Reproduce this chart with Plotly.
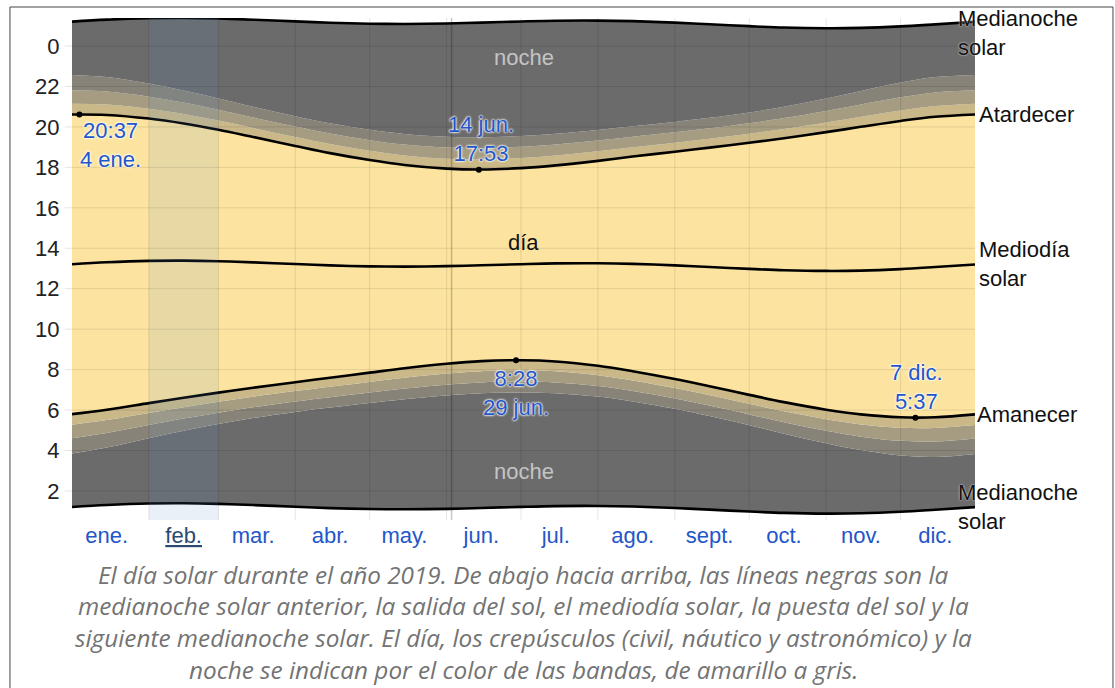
import plotly.graph_objects as go

# ---------------- data (hours of day, 2019) ----------------
dates = ["2019-01-01", "2019-01-15", "2019-02-01", "2019-02-15", "2019-03-01", "2019-03-15",
         "2019-04-01", "2019-04-15", "2019-05-01", "2019-05-15", "2019-06-01", "2019-06-15",
         "2019-07-01", "2019-07-15", "2019-08-01", "2019-08-15", "2019-09-01", "2019-09-15",
         "2019-10-01", "2019-10-15", "2019-11-01", "2019-11-15", "2019-12-01", "2019-12-15",
         "2019-12-31"]

prev_midnight = [1.208, 1.306, 1.378, 1.390, 1.361, 1.303, 1.220, 1.153, 1.105, 1.093, 1.116, 1.158,
                 1.213, 1.251, 1.258, 1.230, 1.155, 1.075, 0.983, 0.916, 0.880, 0.896, 0.970, 1.073, 1.201]
astro_dawn = [3.850, 4.149, 4.612, 4.981, 5.312, 5.606, 5.908, 6.124, 6.349, 6.535, 6.721, 6.829,
              6.874, 6.835, 6.665, 6.428, 6.063, 5.702, 5.249, 4.833, 4.360, 4.020, 3.749, 3.679, 3.831]
naut_dawn = [4.607, 4.865, 5.258, 5.578, 5.872, 6.138, 6.424, 6.637, 6.866, 7.060, 7.255, 7.368,
             7.412, 7.368, 7.187, 6.944, 6.576, 6.220, 5.784, 5.395, 4.971, 4.684, 4.477, 4.444, 4.591]
civil_dawn = [5.271, 5.504, 5.855, 6.142, 6.410, 6.660, 6.937, 7.152, 7.390, 7.596, 7.804, 7.924,
              7.967, 7.916, 7.721, 7.466, 7.090, 6.733, 6.307, 5.936, 5.545, 5.292, 5.124, 5.113, 5.256]
sunrise = [5.800, 6.019, 6.343, 6.611, 6.863, 7.104, 7.379, 7.600, 7.850, 8.070, 8.294, 8.421,
           8.463, 8.404, 8.193, 7.923, 7.536, 7.175, 6.751, 6.391, 6.019, 5.787, 5.643, 5.644, 5.786]
solar_noon = [13.208, 13.306, 13.378, 13.390, 13.361, 13.303, 13.220, 13.153, 13.105, 13.093, 13.116, 13.158,
              13.213, 13.251, 13.258, 13.230, 13.155, 13.075, 12.983, 12.916, 12.880, 12.896, 12.970, 13.073, 13.201]
sunset = [20.616, 20.593, 20.413, 20.169, 19.859, 19.502, 19.061, 18.706, 18.360, 18.116, 17.938, 17.895,
          17.963, 18.098, 18.323, 18.537, 18.774, 18.975, 19.215, 19.441, 19.741, 20.005, 20.297, 20.502, 20.616]
civil_dusk = [21.145, 21.108, 20.901, 20.638, 20.312, 19.946, 19.503, 19.154, 18.820, 18.590, 18.428, 18.392,
              18.459, 18.586, 18.795, 18.994, 19.220, 19.417, 19.659, 19.896, 20.215, 20.500, 20.816, 21.033, 21.146]
naut_dusk = [21.809, 21.747, 21.498, 21.202, 20.850, 20.468, 20.016, 19.669, 19.344, 19.126, 18.977, 18.948,
             19.014, 19.134, 19.329, 19.516, 19.734, 19.930, 20.182, 20.437, 20.789, 21.108, 21.463, 21.702, 21.811]
astro_dusk = [22.566, 22.463, 22.144, 21.799, 21.410, 21.000, 20.532, 20.182, 19.861, 19.651, 19.511, 19.487,
              19.552, 19.667, 19.851, 20.032, 20.247, 20.448, 20.717, 20.999, 21.400, 21.772, 22.191, 22.467, 22.571]
next_midnight = [25.208, 25.306, 25.378, 25.390, 25.361, 25.303, 25.220, 25.153, 25.105, 25.093, 25.116, 25.158,
                 25.213, 25.251, 25.258, 25.230, 25.155, 25.075, 24.983, 24.916, 24.880, 24.896, 24.970, 25.073, 25.201]

extreme_dates = ["2019-01-04", "2019-06-14", "2019-06-29", "2019-12-07"]
extreme_hours = [20.617, 17.883, 8.467, 5.617]
extreme_labels = ["20:37<br>4 ene.", "14 jun.<br>17:53", "8:28<br>29 jun.", "7 dic.<br>5:37"]

month_mid = ["2019-01-15", "2019-02-15", "2019-03-15", "2019-04-15", "2019-05-15", "2019-06-15",
             "2019-07-15", "2019-08-15", "2019-09-15", "2019-10-15", "2019-11-15", "2019-12-15"]
month_labels = ["ene.", "<span style='color:#2b4a6e'><u>feb.</u></span>", "mar.", "abr.", "may.", "jun.",
                "jul.", "ago.", "sept.", "oct.", "nov.", "dic."]
month_starts = ["2019-02-01", "2019-03-01", "2019-04-01", "2019-05-01", "2019-06-01", "2019-07-01",
                "2019-08-01", "2019-09-01", "2019-10-01", "2019-11-01", "2019-12-01"]
hour_ticks = [2, 4, 6, 8, 10, 12, 14, 16, 18, 20, 22, 24]
hour_labels = ["2", "4", "6", "8", "10", "12", "14", "16", "18", "20", "22", "0"]

caption_lines = [
    "El día solar durante el año 2019. De abajo hacia arriba, las líneas negras son la",
    "medianoche solar anterior, la salida del sol, el mediodía solar, la puesta del sol y la",
    "siguiente medianoche solar. El día, los crepúsculos (civil, náutico y astronómico) y la",
    "noche se indican por el color de las bandas, de amarillo a gris.",
]

# ---------------- styles ----------------
NIGHT = "#6b6b6b"
ASTRO = "#878378"
NAUT = "#a59c81"
CIVIL = "#cab888"
DAY = "#fce4a0"
FONT = "Liberation Sans, Arial, sans-serif"
BLUE = "#2356c8"
FS = 22

fig = go.Figure()

bands = [
    (prev_midnight, None),
    (astro_dawn, NIGHT),
    (naut_dawn, ASTRO),
    (civil_dawn, NAUT),
    (sunrise, CIVIL),
    (sunset, DAY),
    (civil_dusk, CIVIL),
    (naut_dusk, NAUT),
    (astro_dusk, ASTRO),
    (next_midnight, NIGHT),
]
for vals, col in bands:
    fig.add_trace(go.Scatter(
        x=dates, y=vals, mode="lines",
        line=dict(width=0, shape="spline", smoothing=1.0),
        fill=None if col is None else "tonexty",
        fillcolor=col, showlegend=False, hoverinfo="skip"))

for vals in [prev_midnight, sunrise, solar_noon, sunset, next_midnight]:
    fig.add_trace(go.Scatter(
        x=dates, y=vals, mode="lines",
        line=dict(width=2.6, color="black", shape="spline", smoothing=1.0),
        showlegend=False, hoverinfo="skip"))

fig.add_trace(go.Scatter(x=extreme_dates, y=extreme_hours, mode="markers",
                         marker=dict(size=6, color="black"), showlegend=False, hoverinfo="skip"))

shapes = []
for h in hour_ticks:
    shapes.append(dict(type="line", xref="x domain", yref="y", x0=-0.008, x1=1, y0=h, y1=h,
                       line=dict(color="rgba(0,0,0,0.10)", width=1), layer="above"))
for d in month_starts:
    shapes.append(dict(type="line", xref="x", yref="y domain", x0=d, x1=d, y0=0, y1=1,
                       line=dict(color="rgba(0,0,0,0.10)", width=1), layer="above"))
shapes.append(dict(type="line", xref="x", yref="y domain", x0="2019-06-03", x1="2019-06-03", y0=0, y1=1,
                   line=dict(color="rgba(0,0,0,0.22)", width=1.5), layer="above"))
shapes.append(dict(type="rect", xref="x", yref="y domain", x0=month_starts[0], x1=month_starts[1], y0=0, y1=1,
                   fillcolor="rgba(93,139,193,0.13)", line=dict(width=0), layer="above"))
# page border
shapes.append(dict(type="rect", xref="paper", yref="paper", x0=-0.0687, x1=1.1528, y0=-0.40, y1=1.0219,
                   line=dict(color="#444", width=1), fillcolor="rgba(0,0,0,0)", layer="below"))

ann = []
halo = "0 0 2px white, 0 0 2px white, 0 0 3px white"
offs = [(31, -31), (2, 31), (0, -33), (1, 31)]
for d, h, t, (dx, dy) in zip(extreme_dates, extreme_hours, extreme_labels, offs):
    ann.append(dict(x=d, y=h, xref="x", yref="y", text=t, showarrow=False, xshift=dx, yshift=dy,
                    xanchor="center", yanchor="middle", align="center",
                    font=dict(family=FONT, size=FS, color=BLUE, shadow=halo)))
ann.append(dict(x="2019-07-02", y=23.45, text="noche", showarrow=False,
                font=dict(family=FONT, size=FS, color="#c4c4c4")))
ann.append(dict(x="2019-07-02", y=2.94, text="noche", showarrow=False,
                font=dict(family=FONT, size=FS, color="#c4c4c4")))
ann.append(dict(x="2019-07-02", y=14.27, text="día", showarrow=False,
                font=dict(family=FONT, size=FS, color="#111")))
rlab = [("Medianoche<br>solar", next_midnight[-1], -19, -11),
        ("Atardecer", sunset[-1], 2, 0),
        ("Mediodía<br>solar", solar_noon[-1], 2, 0),
        ("Amanecer", sunrise[-1], 0, 0),
        ("Medianoche<br>solar", prev_midnight[-1], -19, 0)]
for t, yv, dx, dy in rlab:
    ann.append(dict(x=1, xref="paper", y=yv, yref="y", text=t, showarrow=False, xanchor="left",
                    yanchor="middle", align="left", xshift=dx, yshift=dy,
                    font=dict(family=FONT, size=FS, color="#111", shadow="0 0 2px white")))
for i, line in enumerate(caption_lines):
    py = 574 + i * 31.7
    ann.append(dict(x=0.5, xref="paper", y=0, yref="paper", yanchor="middle", yshift=-(py - 520),
                    text=line, showarrow=False,
                    font=dict(family="Open Sans, sans-serif", size=24.3, color="#737373", style="italic")))

fig.update_layout(
    width=1115, height=688,
    margin=dict(l=72, r=140, t=18, b=168, pad=0),
    paper_bgcolor="white", plot_bgcolor="white",
    hovermode=False,
    shapes=shapes, annotations=ann,
    xaxis=dict(range=["2019-01-01", "2019-12-31"], showgrid=False, zeroline=False, showline=False,
               tickmode="array", tickvals=month_mid, ticktext=month_labels, ticks="", ticklen=0,
               tickfont=dict(family=FONT, size=FS, color=BLUE), fixedrange=True),
    yaxis=dict(range=[0.564, 25.386], showgrid=False, zeroline=False, showline=False,
               tickmode="array", tickvals=hour_ticks, ticktext=hour_labels,
               ticks="outside", ticklen=7, tickcolor="rgba(0,0,0,0)",
               tickfont=dict(family=FONT, size=FS, color="#222"), fixedrange=True),
)

fig.write_html("out.html", config={"displayModeBar": False},
               post_script="document.body.style.margin='0px';document.body.style.overflow='hidden';")
